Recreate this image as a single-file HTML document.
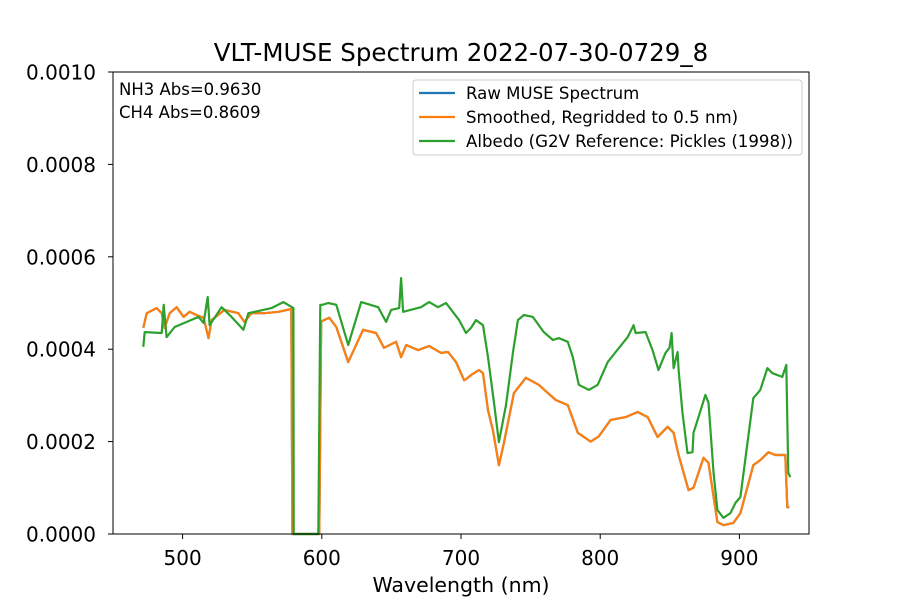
<!DOCTYPE html>
<html><head><meta charset="utf-8"><style>
html,body{margin:0;padding:0;background:#fff;}
svg{display:block;font-family:"DejaVu Sans","Liberation Sans",sans-serif;}
</style></head><body>
<svg id="chart" width="900" height="600" viewBox="0 0 900 600">
<rect width="900" height="600" fill="#fff"/>
<text x="461" y="61" font-size="24.5" text-anchor="middle">VLT-MUSE Spectrum 2022-07-30-0729_8</text>
<g id="plot"></g>
<rect x="113" y="72" width="696" height="462" fill="none" stroke="#000" stroke-width="1"/>
<text x="119" y="95" font-size="16.5">NH3 Abs=0.9630</text>
<text x="119" y="118" font-size="16.5">CH4 Abs=0.8609</text>
<g>
<rect x="413" y="80" width="389" height="75" rx="3" fill="#fff" fill-opacity="0.8" stroke="#ccc"/>
<g><line x1="419" y1="93" x2="455" y2="93" stroke="#1f77b4" stroke-width="2.2"/><text x="466" y="99" font-size="16.6">Raw MUSE Spectrum</text></g>
<g><line x1="419" y1="117" x2="455" y2="117" stroke="#ff7f0e" stroke-width="2.2"/><text x="466" y="123" font-size="16.6">Smoothed, Regridded to 0.5 nm)</text></g>
<g><line x1="419" y1="141" x2="455" y2="141" stroke="#2ca02c" stroke-width="2.2"/><text x="466" y="147" font-size="16.6">Albedo (G2V Reference: Pickles (1998))</text></g>
</g>
<text x="461" y="592" font-size="20.5" text-anchor="middle">Wavelength (nm)</text>
</svg>
<script>
const xTicks=[500,600,700,800,900];
const yTicks=[0,0.0002,0.0004,0.0006,0.0008,0.0010];
const yTickLabels=["0.0000","0.0002","0.0004","0.0006","0.0008","0.0010"];
// wavelength (nm) and value (x1e-4)
const smoothWl=[471.8,474.2,481.4,485,487.1,490.7,495.7,500.7,505,510,515.1,518.6,520.8,530.1,540.1,544.4,549.5,558.8,568.8,578.1,578.9,598.2,599.6,601.6,605.4,610.4,619,629.7,639,644.7,653.4,657,660.6,669.2,677.1,685.7,690.7,696.4,702.2,703.6,707.2,712.9,715.8,719.4,722.9,727.2,730.8,738,746.6,755.9,762.4,768.1,776.7,783.9,793.2,798.9,807.5,818.3,826.9,834.1,841.2,848.4,852.7,856.3,863.4,867,874.2,877.8,884.2,888.5,895.7,900.7,910,915,920.8,925.8,933,934.4,935.8];
const smoothVal=[4.46,4.78,4.89,4.78,4.46,4.78,4.91,4.70,4.81,4.74,4.68,4.24,4.63,4.85,4.78,4.59,4.78,4.78,4.81,4.87,0,0,4.6,4.63,4.68,4.48,3.72,4.42,4.35,4.03,4.16,3.83,4.09,3.98,4.07,3.92,3.94,3.72,3.33,3.35,3.44,3.55,3.48,2.68,2.25,1.49,1.97,3.05,3.38,3.23,3.05,2.90,2.79,2.19,2.00,2.11,2.47,2.53,2.64,2.53,2.10,2.32,2.19,1.71,0.95,1.00,1.65,1.54,0.26,0.19,0.24,0.45,1.49,1.60,1.77,1.71,1.71,0.58,0.58];
const albWl=[471.8,472.8,485,486.4,488.5,494.3,511.5,515.1,518,519.4,528,535.1,543.7,547.3,563.8,572.4,579.6,579.8,597.5,598.9,600.4,604.7,610.4,619,628.3,640.5,646.2,649.8,655.6,657,658.4,671.3,677.1,683.5,689.2,698.6,703.6,707.2,710.8,715.8,719.4,723.7,727.2,732.3,737.3,740.9,745.2,751.6,759.5,766,770.3,776.7,780.3,784.6,791.8,798.2,805.4,811.1,819.7,824,825.4,832.6,837.6,841.9,846.9,849.8,851.3,852.7,855.6,856.3,859.1,862.7,866.3,867,870.6,875.6,877.8,881.4,884.2,888.5,893.5,897.1,900.7,910,915,920.1,923.7,930.8,933.7,935.1,936.6];
const albVal=[4.05,4.37,4.35,4.96,4.26,4.48,4.70,4.57,5.13,4.52,4.91,4.70,4.42,4.78,4.89,5.02,4.89,0,0,4.96,4.96,5.00,4.96,4.09,5.02,4.91,4.59,4.85,4.89,5.54,4.81,4.91,5.02,4.91,5.00,4.63,4.35,4.46,4.63,4.52,3.83,2.84,1.99,2.79,3.92,4.63,4.74,4.70,4.37,4.20,4.24,4.16,3.83,3.23,3.12,3.23,3.72,3.94,4.26,4.52,4.35,4.37,3.98,3.55,3.92,4.03,4.35,3.59,3.94,3.55,2.62,1.75,1.77,2.19,2.53,3.01,2.84,1.34,0.52,0.35,0.45,0.67,0.80,2.94,3.12,3.59,3.48,3.40,3.66,1.32,1.23];
const NS="http://www.w3.org/2000/svg";
const X0=113,X1=809,Y0=534,Y1=72,XMIN=450,XMAX=950,YMIN=0,YMAX=0.001;
function sx(v){return X0+(v-XMIN)/(XMAX-XMIN)*(X1-X0);}
function sy(v){return Y0-(v-YMIN)/(YMAX-YMIN)*(Y0-Y1);}
const g=document.getElementById('plot');
function mk(tag,attrs){const e=document.createElementNS(NS,tag);for(const k in attrs)e.setAttribute(k,attrs[k]);g.appendChild(e);return e;}
xTicks.forEach(t=>{
  const l=mk('line',{x1:sx(t),x2:sx(t),y1:Y0,y2:Y0+5,stroke:'#000'});
  
  
  const tx=mk('text',{x:sx(t),y:Y0+31,'font-size':'20','text-anchor':'middle'});
  tx.textContent=t;
  
  
});
yTicks.forEach((t,i)=>{
  const l=mk('line',{x1:X0-5,x2:X0,y1:sy(t),y2:sy(t),stroke:'#000'});
  
  
  const tx=mk('text',{x:96,y:sy(t)+7.5,'font-size':'20','text-anchor':'end'});
  tx.textContent=yTickLabels[i];
  
  
});
function line(wl,val,color,name){
  const d=wl.map((w,i)=>(i?'L':'M')+sx(w).toFixed(1)+','+sy(val[i]*1e-4).toFixed(1)).join('');
  const p=mk('path',{d:d,fill:'none',stroke:color,'stroke-width':'2.2','stroke-linejoin':'round'});
  
  
}
line(smoothWl,smoothVal,'#1f77b4','raw-spectrum-line');
line(smoothWl,smoothVal,'#ff7f0e','smoothed-spectrum-line');
line(albWl,albVal,'#2ca02c','albedo-line');
</script>
</body></html>
